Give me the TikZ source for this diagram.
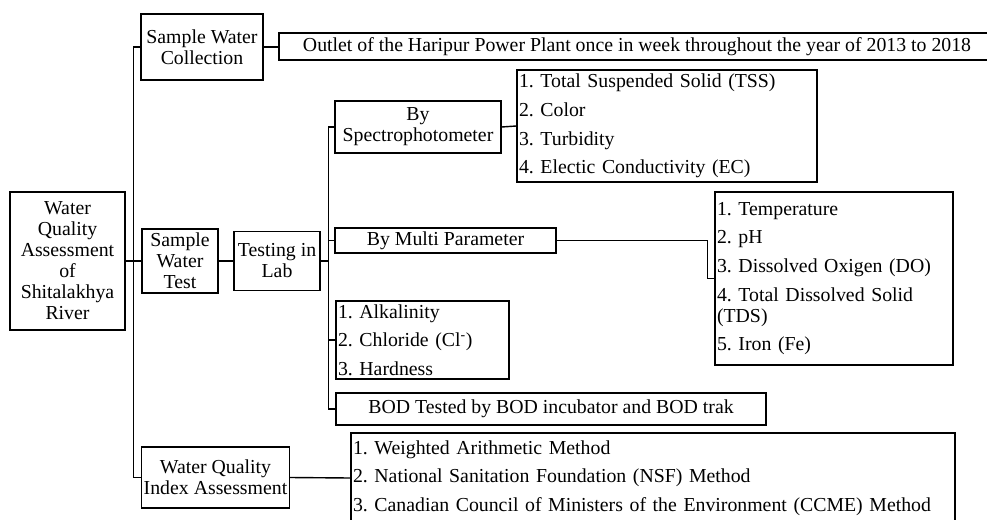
\documentclass[tikz,border=0pt]{standalone}
\usepackage{fontspec}
\setmainfont{Liberation Serif}
\usepackage{tikz}
\usetikzlibrary{calc,positioning}
\newcommand{\gap}{\\[7.7pt]}

\begin{document}
\frenchspacing
\begin{tikzpicture}[x=1pt,y=-1pt,line width=1.4pt,
	box/.style={draw,inner sep=2pt,align=center,font=\fontsize{19.8}{21}\selectfont},
	listbox/.style={box,align=left,inner xsep=2pt}]
	\clip (0,0) rectangle (987,519);
	\node[box,minimum width=115,minimum height=138] (main) at (67.5,261) {Water\\Quality\\Assessment\\of\\Shitalakhya\\River};
	\node[box,minimum width=122,minimum height=66] (swc) at (202,47) {Sample Water\\Collection};
	\node[box,minimum width=716,minimum height=27] (outlet) at (637,46.5) {Outlet of the Haripur Power Plant once in week throughout the year of 2013 to 2018};
	\node[box,minimum width=76,minimum height=64] (swt) at (180,261) {Sample\\Water\\Test};
	\node[box,minimum width=86,minimum height=59] (til) at (277,261) {Testing in\\Lab};
	\node[box,minimum width=166,minimum height=52] (bys) at (418,127) {By\\Spectrophotometer};
	\node[box,minimum width=221,minimum height=25] (bmp) at (445.5,240.5) {By Multi Parameter};
	\node[listbox,text width=169,minimum height=78] (alk) at (422.5,340) {1. Alkalinity\gap 2. Chloride (Cl\textsuperscript{-})\gap 3. Hardness};
	\node[box,minimum width=430,minimum height=32] (bod) at (551,409) {BOD Tested by BOD incubator and BOD trak};
	\node[box,minimum width=147,minimum height=61] (wqia) at (215.5,477.5) {Water Quality\\Index Assessment};
	\node[listbox,text width=296,minimum height=112] (speclist) at (667,126) {1. Total Suspended Solid (TSS)\gap 2. Color\gap 3. Turbidity\gap 4. Electic Conductivity (EC)};
	\node[listbox,text width=234,minimum height=173] (mplist) at (834,278.5) {1. Temperature\gap 2. pH\gap 3. Dissolved Oxigen (DO)\gap 4. Total Dissolved Solid\\(TDS)\gap 5. Iron (Fe)};
	\node[listbox,text width=600,minimum height=90] (methods) at (653,478) {1. Weighted Arithmetic Method\gap 2. National Sanitation Foundation (NSF) Method\gap 3. Canadian Council of Ministers of the Environment (CCME) Method};
	
	\coordinate (rootbus) at ($(main.east)!0.5!(swt.west)$);
	\coordinate (labbus) at ([xshift=7.5pt]til.east);
	\draw (main.east) -- (swt.west);
	\draw (swc.west) -| (rootbus) |- (wqia.west);
	\draw (swc.east) -- (swc.east -| outlet.west);
	\draw (swt.east) -- (til.west);
	\draw (til.east) -- (labbus);
	\draw (bys.west) -| (labbus) |- (bod.west);
	\draw (bmp.west) -- (bmp.west -| labbus);
	\draw (alk.west) -- (alk.west -| labbus);
	\draw (bys.east) -- (speclist.west);
	\draw (bmp.east) -| ([xshift=-7pt]mplist.west) -- (mplist.west);
	\draw (wqia.east) -- (methods.west);
\end{tikzpicture}
\end{document}
